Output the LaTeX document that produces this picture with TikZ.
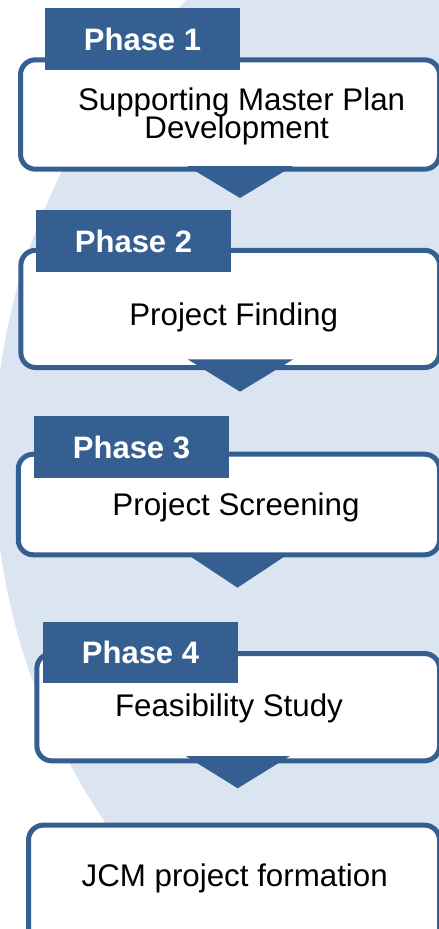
\documentclass[tikz,border=0pt]{standalone}
\usepackage{fontspec}
\setmainfont{Liberation Sans}
\definecolor{phblue}{HTML}{365F91}
\definecolor{bglight}{HTML}{DBE5F1}
\begin{document}
\begin{tikzpicture}[x=1pt,y=-1pt,
  stagebox/.style={draw=phblue, line width=5pt, fill=white, rounded corners=15pt, inner sep=0pt},
  phasetab/.style={fill=phblue, text=white, font=\bfseries\fontsize{31}{31}\selectfont, inner sep=0pt, minimum width=195pt, minimum height=62pt},
  bodytext/.style={font=\fontsize{31.3}{28}\selectfont, anchor=base, inner sep=0pt},
  chevron/.style={fill=phblue}]
\useasboundingbox (0,0) rectangle (439,929);
\clip (0,0) rectangle (439,929);
\fill[white] (0,0) rectangle (439,929);
\fill[bglight] (640,460) circle[radius=646pt];

% stage boxes
\node[stagebox, minimum width=419pt, minimum height=109.4pt] (b1) at (230,114.5) {};
\node[stagebox, minimum width=418.7pt, minimum height=117.3pt] (b2) at (230.2,308.9) {};
\node[stagebox, minimum width=421.3pt, minimum height=100.6pt] (b3) at (228.9,504.5) {};
\node[stagebox, minimum width=402.7pt, minimum height=107.3pt] (b4) at (238.2,707.2) {};
\node[stagebox, minimum width=411pt, minimum height=119.8pt] (b5) at (234,885) {};

% chevrons
\fill[chevron] (187,166) -- (293,166) -- (240,198) -- cycle;
\fill[chevron] (187.7,359.3) -- (293.3,359.3) -- (240,391.7) -- cycle;
\fill[chevron] (188.3,555) -- (286.7,555) -- (237.5,587.7) -- cycle;
\fill[chevron] (185.7,756) -- (290,756) -- (237.7,788.3) -- cycle;

% phase tabs
\node[phasetab] (p1) at (142.5,39) {Phase 1};
\node[phasetab] (p2) at (133.5,241) {Phase 2};
\node[phasetab] (p3) at (131.5,447) {Phase 3};
\node[phasetab, minimum height=61.6pt] (p4) at (140.5,652.5) {Phase 4};

% texts
\node[bodytext] (t1a) at (241.6,110) {Supporting Master Plan};
\node[bodytext] (t1b) at (236.7,138.3) {Development};
\node[bodytext] (t2) at (233.7,325) {Project Finding};
\node[bodytext] (t3) at (236,515) {Project Screening};
\node[bodytext] (t4) at (229,716.7) {Feasibility Study};
\node[bodytext] (t5) at (234.7,886) {JCM project formation};
\end{tikzpicture}
\end{document}
